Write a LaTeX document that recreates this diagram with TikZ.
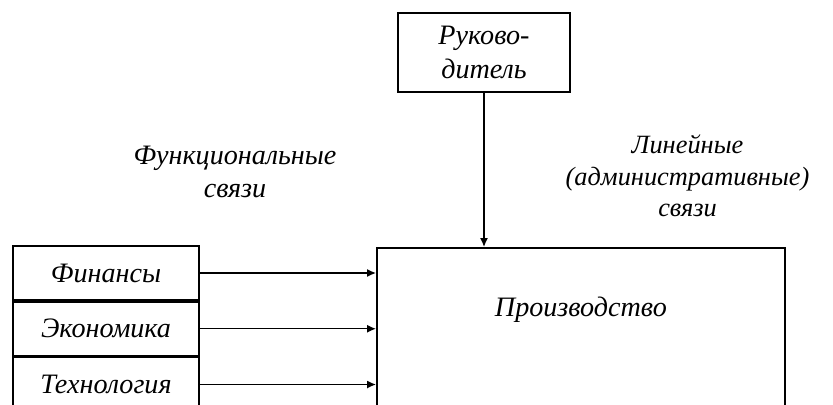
\documentclass[tikz,border=0pt]{standalone}
\usepackage{fontspec}
\setmainfont{Liberation Serif}
\usetikzlibrary{arrows,arrows.meta,shapes,calc,positioning}

\begin{document}
\begin{tikzpicture}[
    every node/.style={font=\itshape\fontsize{16}{19}\selectfont},
    block/.style={draw,line width=1pt,rectangle,inner sep=0pt},
    link/.style={-{Latex[length=5pt,width=4.5pt]},line width=0.8pt}]
    \clip (0,0) rectangle (16.66,8.08);

    \node[block,minimum width=3.44cm,minimum height=1.58cm,align=center] (ruk) at (9.68,7.03) {Руково-\\дитель};

    \node[block,minimum width=3.72cm,minimum height=1.08cm] (fin) at (2.12,2.62) {Финансы};
    \node[block,minimum width=3.72cm,minimum height=1.08cm,below=0pt of fin] (eko) {Экономика};
    \node[block,minimum width=3.72cm,minimum height=1.08cm,below=0pt of eko] (tech) {Технология};

    \node[block,minimum width=8.16cm,minimum height=4cm,anchor=north west] (prod) at (7.52,3.14) {};
    \node (prodname) at ([yshift=-1.26cm]prod.north) {Производство};

    \foreach \src in {fin,eko,tech}
        \draw[link] (\src.east) -- (\src.east -| prod.west);
    \draw[link] (ruk.south) -- (ruk.south |- prod.north);

    \node[align=center] (funlabel) at (4.7,4.64) {Функциональные\\связи};
    \node[align=center,font=\itshape\fontsize{15}{18}\selectfont] (linlabel) at (13.75,4.56) {Линейные\\(административные)\\связи};
\end{tikzpicture}
\end{document}
